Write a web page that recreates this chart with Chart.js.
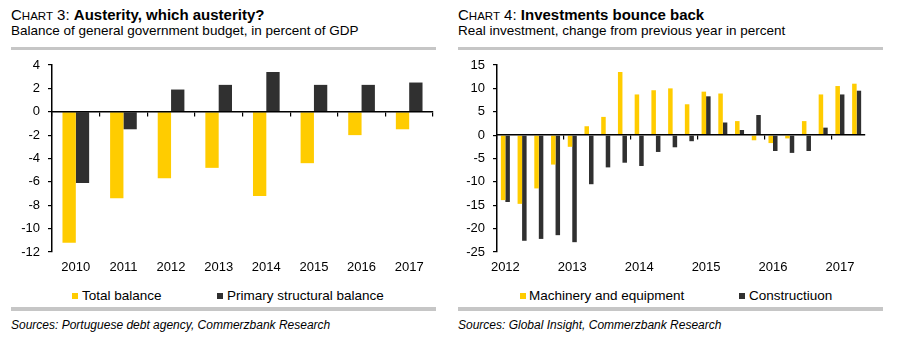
<!DOCTYPE html>
<html>
<head>
<meta charset="utf-8">
<script src="https://cdn.jsdelivr.net/npm/chart.js@4.4.1/dist/chart.umd.min.js"></script>
<style>
html,body{margin:0;padding:0;background:#fff;}
body{width:900px;height:350px;position:relative;overflow:hidden;font-family:"Liberation Sans",Arial,sans-serif;color:#000;}
.abs{position:absolute;white-space:nowrap;}
.title{font-size:15px;line-height:15px;}
.title .sc{font-size:11.5px;}
.sub{font-size:13.5px;line-height:14px;}
.rule{position:absolute;height:3px;background:#c6c6c6;}
.src{font-size:12px;line-height:12px;font-style:italic;}
.leg{font-size:13.5px;line-height:14px;}
.sw{position:absolute;width:6px;height:6px;}
canvas{position:absolute;}
</style>
</head>
<body>
<div class="abs title" style="left:11px;top:7px;">C<span class="sc">HART</span> 3: <b>Austerity, which austerity?</b></div>
<div class="abs sub" style="left:11px;top:24px;">Balance of general government budget, in percent of GDP</div>
<div class="rule" style="left:11px;width:425px;top:47px;"></div>

<div class="abs title" style="left:458px;top:7px;">C<span class="sc">HART</span> 4: <b>Investments bounce back</b></div>
<div class="abs sub" style="left:458px;top:24px;">Real investment, change from previous year in percent</div>
<div class="rule" style="left:458px;width:425px;top:47px;"></div>

<canvas id="c1" width="450" height="230" style="left:0;top:55px;"></canvas>
<canvas id="c2" width="450" height="230" style="left:450px;top:55px;"></canvas>

<div class="sw" style="left:72px;top:293px;background:#FFCC00;"></div>
<div class="abs leg" style="left:82px;top:289px;">Total balance</div>
<div class="sw" style="left:217px;top:293px;background:#303030;"></div>
<div class="abs leg" style="left:227px;top:289px;">Primary structural balance</div>

<div class="sw" style="left:520px;top:293px;background:#FFCC00;"></div>
<div class="abs leg" style="left:529px;top:289px;">Machinery and equipment</div>
<div class="sw" style="left:739px;top:293px;background:#303030;"></div>
<div class="abs leg" style="left:749px;top:289px;">Constructiuon</div>

<div class="rule" style="left:11px;width:425px;top:307px;height:4px;"></div>
<div class="rule" style="left:458px;width:425px;top:307px;height:4px;"></div>

<div class="abs src" style="left:11px;top:319px;">Sources: Portuguese debt agency, Commerzbank Research</div>
<div class="abs src" style="left:458px;top:319px;">Sources: Global Insight, Commerzbank Research</div>

<script>
// ---- Chart 3 data ----
const years = ['2010','2011','2012','2013','2014','2015','2016','2017'];
const totalBalance = [-11.2, -7.4, -5.7, -4.8, -7.2, -4.4, -2.0, -1.5];
const primaryStructuralBalance = [-6.1, -1.5, 1.9, 2.3, 3.4, 2.3, 2.3, 2.5];

// ---- Chart 4 data ----
const quarters = ['2012 Q1','2012 Q2','2012 Q3','2012 Q4',
                  '2013 Q1','2013 Q2','2013 Q3','2013 Q4',
                  '2014 Q1','2014 Q2','2014 Q3','2014 Q4',
                  '2015 Q1','2015 Q2','2015 Q3','2015 Q4',
                  '2016 Q1','2016 Q2','2016 Q3','2016 Q4',
                  '2017 Q1','2017 Q2'];
const quarterTickLabels = ['2012','2013','2014','2015','2016','2017'];
const machinery = [-13.9, -14.7, -11.4, -6.3, -2.5, 1.9, 3.9, 13.5, 8.7, 9.6, 10.0, 6.6,
                   9.3, 8.9, 3.0, -1.1, -1.7, -0.7, 3.0, 8.7, 10.5, 11.0];
const construction = [-14.3, -22.6, -22.2, -21.4, -22.9, -10.5, -6.9, -5.9, -6.6, -3.6, -2.6, -1.3,
                      8.3, 2.7, 1.1, 4.3, -3.4, -3.8, -3.4, 1.6, 8.7, 9.5];

const YELLOW = '#FFCC00';
const DARK = '#303030';
const FONT = {family: '"Liberation Sans", Arial, sans-serif', size: 13};

function makeChart(id, labels, s1, s2, names, yMin, yMax, yStep, catPct, padRight, yWidth, tickCb, zeroTickColor) {
  return new Chart(document.getElementById(id), {
    type: 'bar',
    data: {
      labels: labels,
      datasets: [
        {label: names[0], data: s1, backgroundColor: YELLOW, borderWidth: 0,
         categoryPercentage: catPct, barPercentage: 1.0},
        {label: names[1], data: s2, backgroundColor: DARK, borderWidth: 0,
         categoryPercentage: catPct, barPercentage: 1.0}
      ]
    },
    options: {
      responsive: false,
      animation: false,
      devicePixelRatio: 1,
      layout: {padding: {left: 0, right: padRight, top: 10, bottom: 0}},
      plugins: {legend: {display: false}, tooltip: {enabled: false}},
      scales: {
        x: {
          type: 'category',
          position: 'bottom',
          offset: true,
          grid: {display: false, drawTicks: false},
          border: {display: false},
          ticks: {color: '#000', font: FONT, padding: 8, autoSkip: false, maxRotation: 0, minRotation: 0,
                  callback: tickCb},
          afterFit: (s) => { s.height = 33; }
        },
        xz: {
          type: 'category',
          position: {y: 0},
          offset: true,
          grid: {display: true, offset: true, drawOnChartArea: false, drawTicks: true, tickLength: 4,
                 color: zeroTickColor, lineWidth: 1.2},
          border: {display: true, color: '#000', width: 1.5, z: 1},
          ticks: {display: false}
        },
        y: {
          min: yMin, max: yMax,
          ticks: {stepSize: yStep, color: '#000', font: FONT, padding: 8},
          grid: {display: true, drawOnChartArea: false, drawTicks: true, tickLength: 4, color: '#000', lineWidth: 1.2},
          border: {display: true, color: '#000', width: 1.5},
          afterFit: (s) => { s.width = yWidth; s.paddingTop = 0; s.paddingBottom = 0; }
        }
      }
    }
  });
}

makeChart('c1', years, totalBalance, primaryStructuralBalance,
  ['Total balance', 'Primary structural balance'],
  -12, 4, 2, 0.56, 17, 52,
  function(v, i) { return years[i]; },
  '#000');

makeChart('c2', quarters, machinery, construction,
  ['Machinery and equipment', 'Constructiuon'],
  -25, 15, 5, 0.54, 35, 47,
  function(v, i) { return (i % 4 === 0) ? quarterTickLabels[i / 4] : ''; },
  (ctx) => (ctx.index !== undefined && ctx.index % 4 === 0) ? '#000' : 'rgba(0,0,0,0)');
</script>
</body>
</html>
